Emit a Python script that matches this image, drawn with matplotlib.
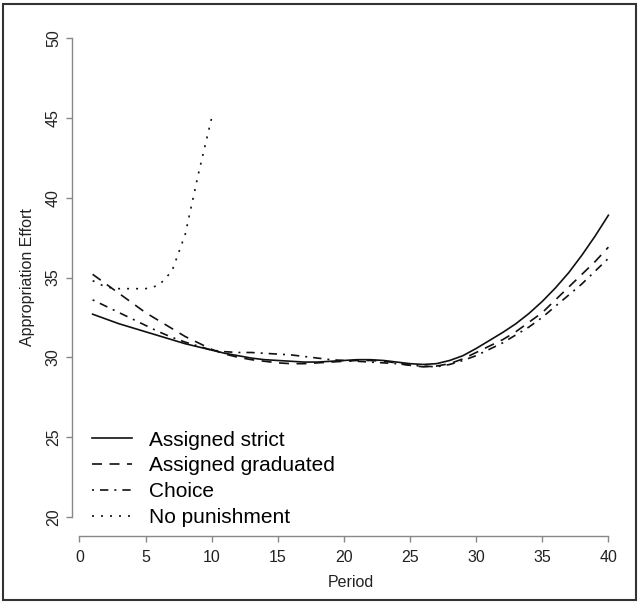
import numpy as np
import matplotlib
matplotlib.use("Agg")
import matplotlib.pyplot as plt
from matplotlib.patches import Rectangle

plt.rcParams['font.family'] = ['Liberation Sans', 'DejaVu Sans']

periode = list(range(1, 41))

strict = [32.7, 32.4, 32.1, 31.85, 31.6, 31.35, 31.1, 30.85, 30.65, 30.45,
          30.25, 30.1, 29.95, 29.85, 29.8, 29.75, 29.7, 29.7, 29.75, 29.8,
          29.85, 29.85, 29.8, 29.7, 29.6, 29.55, 29.6, 29.8, 30.1, 30.55,
          31.05, 31.55, 32.1, 32.75, 33.5, 34.35, 35.3, 36.4, 37.6, 38.9]

graduated = [35.2, 34.6, 34.0, 33.4, 32.8, 32.3, 31.8, 31.3, 30.9, 30.5,
             30.2, 30.0, 29.85, 29.75, 29.65, 29.6, 29.6, 29.65, 29.7, 29.75,
             29.8, 29.8, 29.75, 29.65, 29.5, 29.4, 29.45, 29.6, 29.9, 30.3,
             30.7, 31.1, 31.6, 32.2, 32.8, 33.6, 34.4, 35.2, 36.0, 36.9]

choice = [33.6, 33.2, 32.8, 32.4, 32.0, 31.6, 31.25, 30.95, 30.7, 30.45,
          30.35, 30.3, 30.3, 30.25, 30.2, 30.15, 30.05, 29.95, 29.85, 29.8,
          29.75, 29.7, 29.65, 29.6, 29.5, 29.45, 29.4, 29.55, 29.8, 30.1,
          30.5, 30.9, 31.4, 31.9, 32.5, 33.2, 33.9, 34.6, 35.4, 36.2]

periode_np = list(range(1, 11))
no_punish = [34.8, 34.4, 34.3, 34.3, 34.3, 34.5, 35.4, 37.7, 41.5, 45.0]

xticks = [0, 5, 10, 15, 20, 25, 30, 35, 40]
yticks = [20, 25, 30, 35, 40, 45, 50]

W, H = 638, 603
fig = plt.figure(figsize=(W / 100, H / 100), dpi=100)
ax = fig.add_axes([72 / W, 1 - 536 / H, (629 - 72) / W, (536 - 19) / H])

lw = 1.2
ax.plot(periode, strict, color='#111111', lw=lw, ls='-', label='Assigned strict')
ax.plot(periode, graduated, color='#111111', lw=lw, ls=(0, (6, 4.5)), label='Assigned graduated')
ax.plot(periode, choice, color='#111111', lw=lw, ls=(0, (1.2, 3.6, 5, 3.6)), label='Choice')
ax.plot(periode_np, no_punish, color='#111111', lw=lw, ls=(0, (1.2, 4.2)), label='No punishment')

ax.set_xlim(-0.56, 41.56)
ax.set_ylim(18.8, 51.2)

for s in ['top', 'right']:
    ax.spines[s].set_visible(False)
ax.spines['bottom'].set_bounds(0, 40)
ax.spines['left'].set_bounds(20, 50)
for s in ['bottom', 'left']:
    ax.spines[s].set_color('#888888')
    ax.spines[s].set_linewidth(1.0)

ax.set_xticks(xticks)
ax.set_yticks(yticks)
ax.tick_params(colors='#888888', labelcolor='#222222', length=4, width=1.0, labelsize=11.5)
ax.tick_params(axis='x', pad=6)
ax.tick_params(axis='y', pad=4)
for t in ax.get_yticklabels():
    t.set_rotation(90)
    t.set_va('center')

ax.set_xlabel('Period', fontsize=11.5, color='#222222', labelpad=7)
ax.set_ylabel('Appropriation Effort', fontsize=11.5, color='#222222', labelpad=8)

ax.legend(loc='lower left', bbox_to_anchor=(0.036, 0.017), frameon=False,
          fontsize=15, handlelength=1.9, handletextpad=0.85, labelspacing=0.33,
          borderpad=0, borderaxespad=0)

fig.patches.append(Rectangle((3 / W, 3 / H), (636 - 3) / W, (600 - 4) / H,
                             transform=fig.transFigure, fill=False,
                             edgecolor='#333333', lw=1.5))

fig.savefig('out.png', dpi=100)
